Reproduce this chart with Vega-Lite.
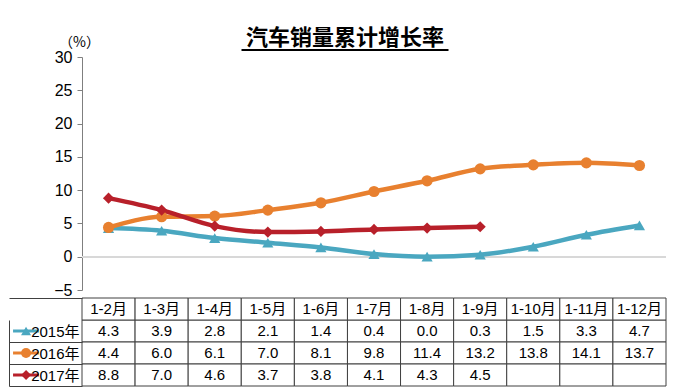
{
  "$schema": "https://vega.github.io/schema/vega-lite/v6.json",
  "padding": {"left": 8, "top": 26, "right": 5, "bottom": 0},
  "background": "white",
  "datasets": {
    "growth": [
      {"m": "1-2月", "s": "2015年", "v": 4.3}, {"m": "1-3月", "s": "2015年", "v": 3.9}, {"m": "1-4月", "s": "2015年", "v": 2.8}, {"m": "1-5月", "s": "2015年", "v": 2.1}, {"m": "1-6月", "s": "2015年", "v": 1.4}, {"m": "1-7月", "s": "2015年", "v": 0.4}, {"m": "1-8月", "s": "2015年", "v": 0.0}, {"m": "1-9月", "s": "2015年", "v": 0.3}, {"m": "1-10月", "s": "2015年", "v": 1.5}, {"m": "1-11月", "s": "2015年", "v": 3.3}, {"m": "1-12月", "s": "2015年", "v": 4.7},
      {"m": "1-2月", "s": "2016年", "v": 4.4}, {"m": "1-3月", "s": "2016年", "v": 6.0}, {"m": "1-4月", "s": "2016年", "v": 6.1}, {"m": "1-5月", "s": "2016年", "v": 7.0}, {"m": "1-6月", "s": "2016年", "v": 8.1}, {"m": "1-7月", "s": "2016年", "v": 9.8}, {"m": "1-8月", "s": "2016年", "v": 11.4}, {"m": "1-9月", "s": "2016年", "v": 13.2}, {"m": "1-10月", "s": "2016年", "v": 13.8}, {"m": "1-11月", "s": "2016年", "v": 14.1}, {"m": "1-12月", "s": "2016年", "v": 13.7},
      {"m": "1-2月", "s": "2017年", "v": 8.8}, {"m": "1-3月", "s": "2017年", "v": 7.0}, {"m": "1-4月", "s": "2017年", "v": 4.6}, {"m": "1-5月", "s": "2017年", "v": 3.7}, {"m": "1-6月", "s": "2017年", "v": 3.8}, {"m": "1-7月", "s": "2017年", "v": 4.1}, {"m": "1-8月", "s": "2017年", "v": 4.3}, {"m": "1-9月", "s": "2017年", "v": 4.5}, {"m": "1-10月", "s": "2017年", "v": null}, {"m": "1-11月", "s": "2017年", "v": null}, {"m": "1-12月", "s": "2017年", "v": null}
    ]
  },
  "data": {"name": "growth"},
  "spacing": -13,
  "vconcat": [
    {
      "width": 584,
      "height": 233,
      "transform": [{"filter": "datum.v != null"}],
      "encoding": {
        "x": {
          "field": "m", "type": "ordinal", "sort": null,
          "scale": {"type": "point", "padding": 0.5},
          "axis": {
            "orient": "top",
            "labels": false,
            "ticks": false,
            "grid": false,
            "domain": true,
            "offset": 7.5,
            "domainDash": [0, 159, 207, 1000],
            "domainWidth": 2,
            "domainColor": "#000000",
            "title": "汽车销量累计增长率",
            "titleFont": "Noto Sans CJK SC",
            "titleFontSize": 22,
            "titleFontWeight": "bold",
            "titleColor": "#000000",
            "titleX": 262.5,
            "titleY": -5,
            "titleAlign": "center",
            "titleBaseline": "alphabetic",
            "minExtent": 0
          }
        },
        "y": {
          "field": "v", "type": "quantitative",
          "scale": {"domain": [-5, 30], "nice": false, "zero": false},
          "axis": {
            "values": [-5, 0, 5, 10, 15, 20, 25, 30],
            "title": "（%）",
            "titleAngle": 0,
            "titleX": -3,
            "titleY": -8,
            "titleAlign": "center",
            "titleBaseline": "bottom",
            "titleFont": "Noto Sans CJK SC",
            "titleFontSize": 14,
            "titleFontWeight": "normal",
            "titleColor": "#000000",
            "labelFont": "Liberation Sans",
            "labelFontSize": 16,
            "labelColor": "#000000",
            "labelPadding": 5,
            "tickSize": 5,
            "tickColor": "#7f7f7f",
            "domainColor": "#7f7f7f",
            "grid": false,
            "minExtent": 73,
            "maxExtent": 73
          }
        },
        "color": {
          "field": "s", "type": "nominal",
          "scale": {"domain": ["2015年", "2016年", "2017年"], "range": ["#4aa7c0", "#e8802f", "#b8202a"]},
          "legend": null
        }
      },
      "layer": [
        {
          "mark": {"type": "rule", "color": "#d9d9d9", "strokeWidth": 1},
          "encoding": {"y": {"datum": 0}, "x": null, "color": null}
        },
        {
          "mark": {"type": "line", "strokeWidth": 4.5, "interpolate": "monotone"}
        },
        {
          "mark": {"type": "point", "filled": true, "size": 125, "opacity": 1},
          "encoding": {
            "shape": {"field": "s", "type": "nominal", "scale": {"domain": ["2015年", "2016年", "2017年"], "range": ["triangle-up", "circle", "diamond"]}, "legend": null}
          }
        }
      ]
    },
    {
      "width": 584,
      "height": 88,
      "encoding": {
        "x": {"field": "m", "type": "ordinal", "sort": null, "scale": {"type": "band", "paddingInner": 0, "paddingOuter": 0}, "axis": null},
        "y": {
          "field": "s", "type": "nominal",
          "scale": {"type": "band", "domain": ["H", "2015年", "2016年", "2017年"], "paddingInner": 0, "paddingOuter": 0},
          "axis": {
            "orient": "left",
            "offset": 73,
            "title": null,
            "tickBand": "extent",
            "tickSize": -73,
            "tickColor": "#404040",
            "tickOpacity": {"condition": {"test": "datum.value === 'H'", "value": 0}, "value": 1},
            "domainColor": "#404040",
            "domainDash": [0, 22, 66],
            "labelExpr": "datum.value === 'H' ? '' : datum.label",
            "labelPadding": 3,
            "labelFont": "Liberation Sans, Noto Sans CJK SC",
            "labelFontSize": 15,
            "labelColor": "#000000",
            "minExtent": 0,
            "maxExtent": 0
          }
        }
      },
      "layer": [
        {
          "mark": {"type": "rect", "fill": "white", "stroke": "#404040", "strokeWidth": 1}
        },
        {
          "transform": [{"filter": "datum.s == '2015年'"}],
          "mark": {"type": "rect", "fill": "white", "stroke": "#404040", "strokeWidth": 1},
          "encoding": {"y": {"datum": "H", "type": "nominal"}}
        },
        {
          "transform": [{"filter": "datum.s == '2015年'"}],
          "mark": {"type": "text", "font": "Liberation Sans, Noto Sans CJK SC", "fontSize": 15, "color": "#000000"},
          "encoding": {"y": {"datum": "H", "type": "nominal"}, "text": {"field": "m"}}
        },
        {
          "transform": [{"filter": "datum.v != null"}],
          "mark": {"type": "text", "font": "Liberation Sans", "fontSize": 15, "color": "#000000"},
          "encoding": {"text": {"field": "v", "type": "quantitative", "format": ".1f"}}
        },
        {
          "transform": [{"filter": "datum.m == '1-2月'"}],
          "mark": {"type": "tick", "orient": "horizontal", "size": 26, "thickness": 3, "xOffset": -82.5, "opacity": 1},
          "encoding": {"color": {"field": "s", "type": "nominal", "scale": {"domain": ["2015年", "2016年", "2017年"], "range": ["#4aa7c0", "#e8802f", "#b8202a"]}, "legend": null}}
        },
        {
          "transform": [{"filter": "datum.m == '1-2月'"}],
          "mark": {"type": "point", "filled": true, "size": 100, "opacity": 1, "xOffset": -82.5},
          "encoding": {
            "color": {"field": "s", "type": "nominal", "scale": {"domain": ["2015年", "2016年", "2017年"], "range": ["#4aa7c0", "#e8802f", "#b8202a"]}, "legend": null},
            "shape": {"field": "s", "type": "nominal", "scale": {"domain": ["2015年", "2016年", "2017年"], "range": ["triangle-up", "circle", "diamond"]}, "legend": null}
          }
        }
      ]
    }
  ],
  "config": {"view": {"stroke": null}}
}
